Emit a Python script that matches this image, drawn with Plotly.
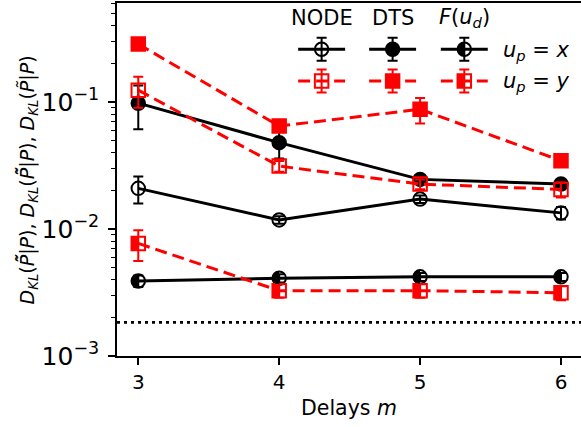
import numpy as np
import plotly.graph_objects as go

# ---------------- data ----------------
delays = [3, 4, 5, 6]

node_x = [0.0209, 0.0118, 0.0172, 0.0134]
node_x_err = [0.0050, 0.0008, 0.0012, 0.0015]
dts_x = [0.098, 0.0479, 0.0246, 0.0226]
dts_x_err = [0.037, 0.012, 0.002, 0.002]
fud_x = [0.0039, 0.0041, 0.0042, 0.0042]
fud_x_err = [0.0004, 0.0003, 0.0003, 0.0003]

node_y = [0.124, 0.0313, 0.0226, 0.0205]
node_y_err = [0.034, 0.003, 0.002, 0.0028]
dts_y = [0.286, 0.0647, 0.0877, 0.0345]
dts_y_err = [0.025, 0.005, 0.020, 0.002]
fud_y = [0.0077, 0.00327, 0.00327, 0.00315]
fud_y_err = [0.0021, 0.0004, 0.0004, 0.0004]

reference_level = 0.00184

x_tickvals = [3, 4, 5, 6]

col_headers = ["NODE", "DTS", "<i>F</i>(<i>u<sub>d</sub></i>)"]
row_labels = ["<i>u<sub>p</sub></i> = <i>x</i>", "<i>u<sub>p</sub></i> = <i>y</i>"]

# ---------------- style ----------------
FONT = "DejaVu Sans"
BLACK = "black"
RED = "#ff0000"
LW = 3.0
MS = 13.5
DASH = "12px,6px"
Y_RANGE_LOG = [-3, -0.22]

fig = go.Figure()

def add_series(y, err, color, symbol, dash):
    fig.add_trace(go.Scatter(
        x=delays, y=y, mode="lines+markers",
        line=dict(color=color, width=LW, dash=dash),
        marker=dict(symbol=symbol, size=MS, color=color,
                    line=dict(color=color, width=2)),
        error_y=dict(type="data", array=err, visible=True, color=color,
                     thickness=2, width=5),
        showlegend=False, hoverinfo="skip"))

add_series(node_x, node_x_err, BLACK, "circle-open", "solid")
add_series(dts_x, dts_x_err, BLACK, "circle", "solid")
add_series(fud_x, fud_x_err, BLACK, "circle-open", "solid")
add_series(node_y, node_y_err, RED, "square-open", DASH)
add_series(dts_y, dts_y_err, RED, "square", DASH)
add_series(fud_y, fud_y_err, RED, "square-open", DASH)

# half-filled marker helpers (left half filled), pixel-sized shapes anchored at data
r = MS / 2.0
ang = np.linspace(np.pi / 2, 3 * np.pi / 2, 25)
half_disc = "M " + " L ".join(f"{r*np.cos(a):.2f},{r*np.sin(a):.2f}" for a in ang) + " Z"
hs = MS / 2.0

def half_circle(xa, ya, color, xref, yref):
    fig.add_shape(type="path", xref=xref, yref=yref, xsizemode="pixel", ysizemode="pixel",
                  xanchor=xa, yanchor=ya, path=half_disc, fillcolor=color,
                  line=dict(width=0), layer="above")

def half_square(xa, ya, color, xref, yref):
    fig.add_shape(type="rect", xref=xref, yref=yref, xsizemode="pixel", ysizemode="pixel",
                  xanchor=xa, yanchor=ya, x0=-hs, x1=0, y0=-hs, y1=hs, fillcolor=color,
                  line=dict(width=0), layer="above")

# a linear twin of the log y axis (in log10 units) carries the half-fill shapes
for xv, yv in zip(delays, fud_x):
    half_circle(xv, float(np.log10(yv)), BLACK, "x", "y3")
for xv, yv in zip(delays, fud_y):
    half_square(xv, float(np.log10(yv)), RED, "x", "y3")

# dotted reference line
fig.add_shape(type="line", xref="paper", x0=0, x1=1, yref="y", y0=reference_level,
              y1=reference_level, line=dict(color=BLACK, width=2.7, dash="3px,4px"))

# ---------------- custom legend (overlay axes in [0,1]) ----------------
leg_cols = [0.441, 0.594, 0.7485]
leg_rows = [0.869, 0.779]
leg_half = 0.0506
leg_err = 0.0326
leg_specs = [
    [(BLACK, "circle-open", "solid", "none"), (BLACK, "circle", "solid", "none"),
     (BLACK, "circle-open", "solid", "circle")],
    [(RED, "square-open", DASH, "none"), (RED, "square", DASH, "none"),
     (RED, "square-open", DASH, "square")],
]
for ri, row in enumerate(leg_specs):
    for ci, (color, sym, dash, half) in enumerate(row):
        cx, cy = leg_cols[ci], leg_rows[ri]
        fig.add_trace(go.Scatter(x=[cx - leg_half, cx + leg_half], y=[cy, cy], mode="lines",
                                 line=dict(color=color, width=LW, dash=dash),
                                 xaxis="x2", yaxis="y2", showlegend=False, hoverinfo="skip"))
        fig.add_trace(go.Scatter(x=[cx], y=[cy], mode="markers",
                                 marker=dict(symbol=sym, size=MS, color=color,
                                             line=dict(color=color, width=2)),
                                 error_y=dict(type="data", array=[leg_err], visible=True,
                                              color=color, thickness=2, width=5),
                                 xaxis="x2", yaxis="y2", showlegend=False, hoverinfo="skip"))
        if half == "circle":
            half_circle(cx, cy, color, "x2", "y2")
        elif half == "square":
            half_square(cx, cy, color, "x2", "y2")

for ci, txt in enumerate(col_headers):
    fig.add_annotation(x=leg_cols[ci], y=0.957, xref="paper", yref="paper", text=txt,
                       showarrow=False, xanchor="center", yanchor="middle",
                       font=dict(family=FONT, size=21, color=BLACK))
for ri, txt in enumerate(row_labels):
    fig.add_annotation(x=0.828, y=leg_rows[ri] - 0.004, xref="paper", yref="paper", text=txt,
                       showarrow=False, xanchor="left", yanchor="middle",
                       font=dict(family=FONT, size=21, color=BLACK))

# y axis title as rotated annotation
ytitle = ("<i>D</i><sub><i>KL</i></sub>(<i>P\u0303\u0303</i>|<i>P</i>), "
          "<i>D</i><sub><i>KL</i></sub>(<i>P\u0303\u0303</i>|<i>P</i>), "
          "<i>D</i><sub><i>KL</i></sub>(<i>P\u0303</i>|<i>P</i>)")
fig.add_annotation(x=-0.194, y=0.5, xref="paper", yref="paper", text=ytitle, textangle=-90,
                   showarrow=False, xanchor="center", yanchor="middle",
                   font=dict(family=FONT, size=19, color=BLACK))

fig.update_layout(
    width=581, height=427,
    margin=dict(l=117, r=0, t=3, b=71, pad=0),
    paper_bgcolor="white", plot_bgcolor="white",
    font=dict(family=FONT, size=19, color=BLACK),
    xaxis=dict(range=[2.849, 6.142], tickmode="array", tickvals=x_tickvals,
               ticks="outside", ticklen=7, tickwidth=1.5, tickcolor=BLACK,
               showline=True, linecolor=BLACK, linewidth=1.6, mirror=True,
               showgrid=False, zeroline=False,
               tickfont=dict(family=FONT, size=20),
               title=dict(text="Delays <i>m</i>", font=dict(family=FONT, size=20.5), standoff=8)),
    yaxis=dict(type="log", range=Y_RANGE_LOG, tickmode="linear", tick0=0, dtick=1,
               exponentformat="power",
               ticks="outside", ticklen=7, tickwidth=1.5, tickcolor=BLACK,
               minor=dict(ticks="outside", ticklen=4, tickwidth=1.2, tickcolor=BLACK,
                          dtick="D1", showgrid=False),
               showline=True, linecolor=BLACK, linewidth=1.6, mirror=False,
               showgrid=False, zeroline=False, ticklabelstandoff=5,
               tickfont=dict(family=FONT, size=20)),
    xaxis2=dict(overlaying="x", range=[0, 1], visible=False, fixedrange=True),
    yaxis2=dict(overlaying="y", range=[0, 1], visible=False, fixedrange=True),
    yaxis3=dict(overlaying="y", type="linear", range=Y_RANGE_LOG, visible=False,
                fixedrange=True),
    showlegend=False,
)

fig.write_html("out.html")
